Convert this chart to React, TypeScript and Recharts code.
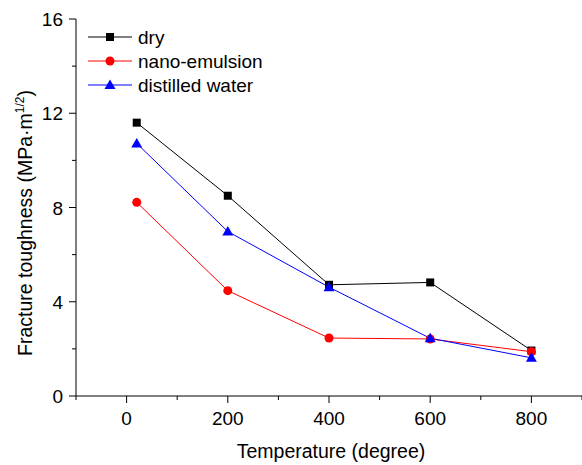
import { LineChart, Line, XAxis, YAxis, Customized } from 'recharts';

const temperatures = [20, 200, 400, 600, 800];
const dryValues = [11.6, 8.5, 4.72, 4.82, 1.93];
const nanoValues = [8.22, 4.47, 2.46, 2.42, 1.88];
const waterValues = [10.72, 6.98, 4.62, 2.45, 1.62];

const xTicks = [-100, 0, 100, 200, 300, 400, 500, 600, 700, 800, 900];
const yTicks = [0, 2, 4, 6, 8, 10, 12, 14, 16];

const data = temperatures.map((t, i) => ({
  t,
  dry: dryValues[i],
  nano: nanoValues[i],
  water: waterValues[i],
}));

const FONT = 'Arial, "Liberation Sans", sans-serif';

const series = [
  { key: 'dry', name: 'dry', color: '#000000', shape: 'square' },
  { key: 'nano', name: 'nano-emulsion', color: '#ff0000', shape: 'circle' },
  { key: 'water', name: 'distilled water', color: '#0000ff', shape: 'triangle' },
];

function Marker({ cx, cy, shape, color }: any) {
  if (cx == null || cy == null) return null;
  if (shape === 'square') {
    return <rect x={cx - 4} y={cy - 4} width={8} height={8} fill={color} />;
  }
  if (shape === 'circle') {
    return <circle cx={cx} cy={cy} r={4.5} fill={color} />;
  }
  return (
    <polygon
      points={`${cx},${cy - 5.5} ${cx - 5.5},${cy + 4} ${cx + 5.5},${cy + 4}`}
      fill={color}
    />
  );
}

function XTick({ x, y, payload }: any) {
  const v = payload.value;
  const major = v % 200 === 0 && v >= 0 && v <= 800;
  return (
    <g>
      <line x1={x} y1={y} x2={x} y2={y + (major ? 7 : 4)} stroke="#000" />
      {major && (
        <text x={x} y={y + 29} textAnchor="middle" fontSize={19} fontFamily={FONT} fill="#000">
          {v}
        </text>
      )}
    </g>
  );
}

function YTick({ x, y, payload }: any) {
  const v = payload.value;
  const major = v % 4 === 0;
  return (
    <g>
      <line x1={x} y1={y} x2={x - (major ? 7 : 4)} y2={y} stroke="#000" />
      {major && (
        <text x={x - 13} y={y + 7} textAnchor="end" fontSize={19} fontFamily={FONT} fill="#000">
          {v}
        </text>
      )}
    </g>
  );
}

function Titles() {
  return (
    <g fontFamily={FONT} fill="#000">
      <text x={331} y={458} textAnchor="middle" fontSize={19.5}>
        Temperature (degree)
      </text>
      <text
        x={32}
        y={223}
        transform="rotate(-90, 32, 223)"
        textAnchor="middle"
        fontSize={19.5}
      >
        Fracture toughness (MPa·m
        <tspan dy={-8} fontSize={12}>1/2</tspan>
        <tspan dy={8}>)</tspan>
      </text>
    </g>
  );
}

function LegendBox() {
  return (
    <g>
      {series.map((s, i) => {
        const cy = 37 + i * 24;
        return (
          <g key={s.key}>
            <line x1={88} y1={cy} x2={132} y2={cy} stroke={s.color} />
            <Marker cx={110} cy={cy} shape={s.shape} color={s.color} />
            <text x={138} y={cy + 7} fontSize={19} fontFamily={FONT} fill="#000">
              {s.name}
            </text>
          </g>
        );
      })}
    </g>
  );
}

export default function App() {
  return (
    <div style={{ position: 'absolute', left: 0, top: 0, width: 582, height: 465, overflow: 'hidden', background: '#fff' }}>
      <LineChart width={582} height={465} data={data} margin={{ top: 19, right: 0, left: 0, bottom: 0 }}>
        <XAxis
          dataKey="t"
          type="number"
          domain={[-100, 900]}
          ticks={xTicks}
          interval={0}
          tick={<XTick />}
          tickLine={false}
          tickSize={0}
          tickMargin={0}
          height={69}
          axisLine={{ stroke: '#000' }}
        />
        <YAxis
          type="number"
          domain={[0, 16]}
          ticks={yTicks}
          interval={0}
          tick={<YTick />}
          tickLine={false}
          tickSize={0}
          tickMargin={0}
          width={76}
          axisLine={{ stroke: '#000' }}
        />
        <Customized component={<Titles />} />
        <Customized component={<LegendBox />} />
        {series.map((s) => (
          <Line
            key={s.key}
            dataKey={s.key}
            name={s.name}
            stroke={s.color}
            strokeWidth={1}
            isAnimationActive={false}
            dot={(p: any) => <Marker key={`${s.key}-${p.index}`} cx={p.cx} cy={p.cy} shape={s.shape} color={s.color} />}
            activeDot={false}
          />
        ))}
      </LineChart>
    </div>
  );
}
